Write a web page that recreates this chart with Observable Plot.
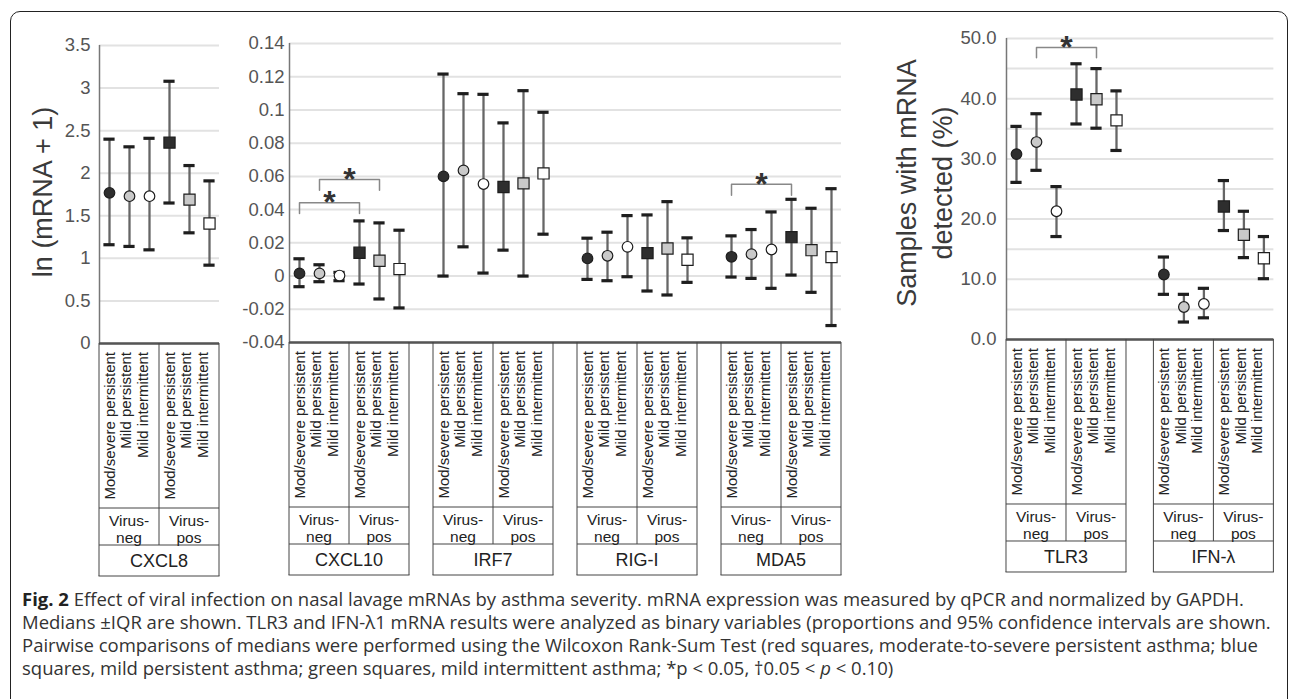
<!DOCTYPE html>
<html><head><meta charset="utf-8">
<script src="https://cdn.jsdelivr.net/npm/d3@7"></script>
<script src="https://cdn.jsdelivr.net/npm/@observablehq/plot@0.6"></script>
<style>
body{margin:0;background:#fff;}
#root{position:relative;width:1290px;height:699px;overflow:hidden;font-family:"Liberation Sans",Arial,sans-serif;}
#frame{position:absolute;left:10px;top:11px;width:1278px;height:740px;border:1.5px solid #222;border-radius:10px;box-sizing:border-box;pointer-events:none;}
.panel{position:absolute;top:0;}
#caption{position:absolute;left:22px;top:587px;font-family:"Open Sans",sans-serif;font-size:18.5px;color:#333;line-height:23px;white-space:nowrap;}
#caption b{color:#222;}
</style></head><body><div id="root"></div>
<script>
// ---------- data ----------
const severities = ["Mod/severe persistent", "Mild persistent", "Mild intermittent"];
const virusGroups = ["Virus-neg", "Virus-pos"];
const panel1Genes = ["CXCL8"];
const panel2Genes = ["CXCL10", "IRF7", "RIG-I", "MDA5"];
const panel3Genes = ["TLR3", "IFN-λ"];

// order per gene: virus-neg (mod/severe, mild pers, mild int), virus-pos (same)
const cxcl8Median = [1.77, 1.73, 1.73, 2.36, 1.69, 1.41];
const cxcl8Upper  = [2.40, 2.31, 2.41, 3.08, 2.09, 1.91];
const cxcl8Lower  = [1.16, 1.14, 1.10, 1.65, 1.30, 0.92];

const cxcl10Median = [0.0016, 0.0016, 0.0003, 0.0140, 0.0092, 0.0042];
const cxcl10Upper  = [0.0104, 0.0068, 0.0022, 0.0332, 0.0320, 0.0276];
const cxcl10Lower  = [-0.0064, -0.0034, -0.0028, -0.0048, -0.0138, -0.0192];

const irf7Median = [0.0600, 0.0636, 0.0554, 0.0536, 0.0558, 0.0618];
const irf7Upper  = [0.1216, 0.1098, 0.1094, 0.0922, 0.1116, 0.0986];
const irf7Lower  = [0.0000, 0.0176, 0.0018, 0.0156, 0.0000, 0.0252];

const rigiMedian = [0.0106, 0.0122, 0.0176, 0.0138, 0.0166, 0.0098];
const rigiUpper  = [0.0228, 0.0264, 0.0364, 0.0368, 0.0448, 0.0230];
const rigiLower  = [-0.0020, -0.0028, -0.0004, -0.0090, -0.0114, -0.0038];

const mda5Median = [0.0116, 0.0132, 0.0160, 0.0234, 0.0156, 0.0114];
const mda5Upper  = [0.0242, 0.0280, 0.0386, 0.0462, 0.0408, 0.0526];
const mda5Lower  = [-0.0006, -0.0014, -0.0074, 0.0006, -0.0098, -0.0298];

const tlr3Pct   = [30.8, 32.8, 21.3, 40.7, 39.9, 36.4];
const tlr3Upper = [35.4, 37.5, 25.4, 45.8, 45.0, 41.3];
const tlr3Lower = [26.1, 28.1, 17.1, 35.8, 35.1, 31.4];

const ifnPct   = [10.8, 5.4, 5.9, 22.1, 17.4, 13.5];
const ifnUpper = [13.7, 7.5, 8.5, 26.4, 21.3, 17.1];
const ifnLower = [7.5, 2.9, 3.6, 18.1, 13.6, 10.1];

// significance brackets: gene, from group index, to group index, bracket height, leg end
const bracketGenes = ["CXCL10", "CXCL10", "MDA5", "TLR3"];
const bracketFrom  = [0, 1, 0, 1];
const bracketTo    = [3, 4, 3, 4];
const bracketTop   = [0.0442, 0.0582, 0.0552, 48.5];
const bracketLeg   = [0.0376, 0.0516, 0.0486, 46.8];
const bracketLabel = ["*", "*", "*", "*"];

const ticks1 = [0, 0.5, 1, 1.5, 2, 2.5, 3, 3.5];
const ticks2 = [-0.04, -0.02, 0, 0.02, 0.04, 0.06, 0.08, 0.1, 0.12, 0.14];
const ticks3 = [0, 10, 20, 30, 40, 50];
const grid3  = [0, 5, 10, 15, 20, 25, 30, 35, 40, 45, 50];

// ---------- styling ----------
const FONT = "'Liberation Sans', Arial, sans-serif";
const sevFill = ["#2e2e2e", "#c9c9c9", "#ffffff"];
const SLOT = 20;

function buildRows(genes, med, lo, hi, step) {
  const rows = [];
  genes.forEach((gene, g) => {
    for (let s = 0; s < 6; s++) {
      rows.push({gene, g, s, sev: s % 3, virus: s < 3 ? 0 : 1,
        pos: g * step + s + 0.5, median: med[g][s], lo: lo[g][s], hi: hi[g][s]});
    }
  });
  return rows;
}

function buildBrackets(genes, step) {
  const lines = [], labels = [];
  bracketGenes.forEach((gene, i) => {
    const g = genes.indexOf(gene);
    if (g < 0) return;
    const x1 = g * step + bracketFrom[i] + 0.5, x2 = g * step + bracketTo[i] + 0.5;
    lines.push({id: i, x: x1, y: bracketLeg[i]}, {id: i, x: x1, y: bracketTop[i]},
               {id: i, x: x2, y: bracketTop[i]}, {id: i, x: x2, y: bracketLeg[i]});
    labels.push({x: (x1 + x2) / 2, y: bracketTop[i], text: bracketLabel[i]});
  });
  return {lines, labels};
}

function makePanel(cfg) {
  const {genes, med, lo, hi, step, yDomain, yTicks, gridTicks, tickFormat,
         left, marginLeft, marginRight, marginTop, frameH, tickPadding} = cfg;
  const xmax = (genes.length - 1) * step + 6;
  const frameW = xmax * SLOT;
  const marginBottom = 250;
  const width = marginLeft + frameW + marginRight;
  const height = marginTop + frameH + marginBottom;
  const rows = buildRows(genes, med, lo, hi, step);
  const br = buildBrackets(genes, step);
  const capW = 0.28;
  const plot = Plot.plot({
    width, height, marginLeft, marginRight, marginTop, marginBottom,
    style: {fontFamily: FONT, background: "transparent", overflow: "visible"},
    x: {domain: [0, xmax], axis: null},
    y: {domain: yDomain},
    color: {type: "identity"},
    marks: [
      Plot.gridY(gridTicks, {stroke: "#e2e2e2", strokeWidth: 2, strokeOpacity: 1}),
      Plot.axisY(yTicks, {tickSize: 0, tickPadding, tickFormat, fontSize: 18.5, fill: "#555", label: null}),
      Plot.ruleX([0], {stroke: "#777", strokeWidth: 1.5}),
      Plot.ruleX(rows, {x: "pos", y1: "lo", y2: "hi", stroke: "#666", strokeWidth: 2.3}),
      Plot.ruleY(rows, {y: "hi", x1: d => d.pos - capW, x2: d => d.pos + capW, stroke: "#1e1e1e", strokeWidth: 3.2}),
      Plot.ruleY(rows, {y: "lo", x1: d => d.pos - capW, x2: d => d.pos + capW, stroke: "#1e1e1e", strokeWidth: 3.2}),
      Plot.dot(rows.filter(d => d.virus === 0), {x: "pos", y: "median", symbol: "circle", r: 5.3,
        fill: d => sevFill[d.sev], stroke: "#1e1e1e", strokeWidth: 1.2}),
      Plot.dot(rows.filter(d => d.virus === 1), {x: "pos", y: "median", symbol: "square", r: 6.3,
        fill: d => sevFill[d.sev], stroke: "#1e1e1e", strokeWidth: 1.2}),
      Plot.line(br.lines, {x: "x", y: "y", z: "id", stroke: "#888", strokeWidth: 1.5}),
      Plot.text(br.labels, {x: "x", y: "y", text: "text", fontSize: 32, fontWeight: "bold", fill: "#333"}),
      Plot.ruleY([yDomain[0]], {stroke: "#555", strokeWidth: 2.5})
    ]
  });
  plot.classList.add("panel");
  plot.style.left = left + "px";
  drawTable(plot, genes, step);
  return plot;
}

function drawTable(plot, genes, step) {
  const xs = plot.scale("x"), ys = plot.scale("y");
  const X = v => xs.apply(v);
  const fb = ys.apply(ys.domain[0]);
  const g = d3.select(plot).append("g").attr("font-family", FONT).attr("fill", "#222");
  const rowA = fb + 165, rowB = fb + 202, rowC = fb + 233;
  const line = (x1, y1, x2, y2) => g.append("line").attr("x1", x1).attr("y1", y1)
    .attr("x2", x2).attr("y2", y2).attr("stroke", "#444").attr("stroke-width", 1);
  genes.forEach((gene, gi) => {
    const x0 = X(gi * step), x1 = X(gi * step + 6), xm = X(gi * step + 3);
    line(x0, fb, x0, rowC); line(x1, fb, x1, rowC); line(xm, fb, xm, rowB);
    line(x0, rowA, x1, rowA); line(x0, rowB, x1, rowB); line(x0 - 0.5, rowC, x1 + 0.5, rowC);
    virusGroups.forEach((vg, vi) => {
      const c = X(gi * step + vi * 3 + 1.5);
      severities.forEach((sv, si) => {
        g.append("text")
          .attr("transform", `translate(${c - 3 + (si - 1) * 16.5},${fb + 9}) rotate(-90)`)
          .attr("text-anchor", "end").attr("dy", "0.35em").attr("font-size", 15).text(sv);
      });
      const parts = vg.split("-");
      [parts[0] + "-", parts[1]].forEach((t, ti) => {
        g.append("text").attr("x", c).attr("y", fb + 178 + ti * 16.5)
          .attr("text-anchor", "middle").attr("dy", "0.35em").attr("font-size", 15.5).text(t);
      });
    });
    g.append("text").attr("x", (x0 + x1) / 2).attr("y", fb + 218).attr("text-anchor", "middle")
      .attr("dy", "0.35em").attr("font-size", 18).text(gene);
  });
}

const root = document.getElementById("root");

root.appendChild(makePanel({
  genes: panel1Genes, med: [cxcl8Median], lo: [cxcl8Lower], hi: [cxcl8Upper], step: 7.2,
  yDomain: [0, 3.5], yTicks: ticks1, gridTicks: ticks1, tickFormat: d => String(d),
  left: 0, marginLeft: 99, marginRight: 11, marginTop: 45, frameH: 298, tickPadding: 9
}));

root.appendChild(makePanel({
  genes: panel2Genes,
  med: [cxcl10Median, irf7Median, rigiMedian, mda5Median],
  lo: [cxcl10Lower, irf7Lower, rigiLower, mda5Lower],
  hi: [cxcl10Upper, irf7Upper, rigiUpper, mda5Upper], step: 7.2,
  yDomain: [-0.04, 0.14], yTicks: ticks2, gridTicks: ticks2, tickFormat: d => String(d),
  left: 230, marginLeft: 59, marginRight: 10, marginTop: 43, frameH: 299, tickPadding: 5
}));

root.appendChild(makePanel({
  genes: panel3Genes, med: [tlr3Pct, ifnPct], lo: [tlr3Lower, ifnLower], hi: [tlr3Upper, ifnUpper], step: 7.37,
  yDomain: [0, 50], yTicks: ticks3, gridTicks: grid3, tickFormat: d3.format(".1f"),
  left: 880, marginLeft: 126, marginRight: 16, marginTop: 38, frameH: 301, tickPadding: 10
}));

// axis titles (real text)
const titles = d3.select(root).append("svg").attr("width", 1290).attr("height", 699)
  .style("position", "absolute").style("left", 0).style("top", 0).style("pointer-events", "none")
  .attr("font-family", FONT).attr("fill", "#3a3a3a").attr("font-size", 27);
titles.append("text").attr("transform", "translate(52,192) rotate(-90)").attr("text-anchor", "middle")
  .text("ln (mRNA + 1)");
titles.append("text").attr("transform", "translate(916,183) rotate(-90)").attr("text-anchor", "middle")
  .text("Samples with mRNA");
titles.append("text").attr("transform", "translate(952,183) rotate(-90)").attr("text-anchor", "middle")
  .text("detected (%)");

const cap = document.createElement("div");
cap.id = "caption";
cap.innerHTML = [
  "<b>Fig. 2</b> Effect of viral infection on nasal lavage mRNAs by asthma severity. mRNA expression was measured by qPCR and normalized by GAPDH.",
  "Medians ±IQR are shown. TLR3 and IFN-λ1 mRNA results were analyzed as binary variables (proportions and 95% confidence intervals are shown.",
  "Pairwise comparisons of medians were performed using the Wilcoxon Rank-Sum Test (red squares, moderate-to-severe persistent asthma; blue",
  "squares, mild persistent asthma; green squares, mild intermittent asthma; *p &lt; 0.05, †0.05 &lt; <i>p</i> &lt; 0.10)"
].map(t => `<div>${t}</div>`).join("");
root.appendChild(cap);

const frame = document.createElement("div");
frame.id = "frame";
root.appendChild(frame);
</script>
</body></html>
